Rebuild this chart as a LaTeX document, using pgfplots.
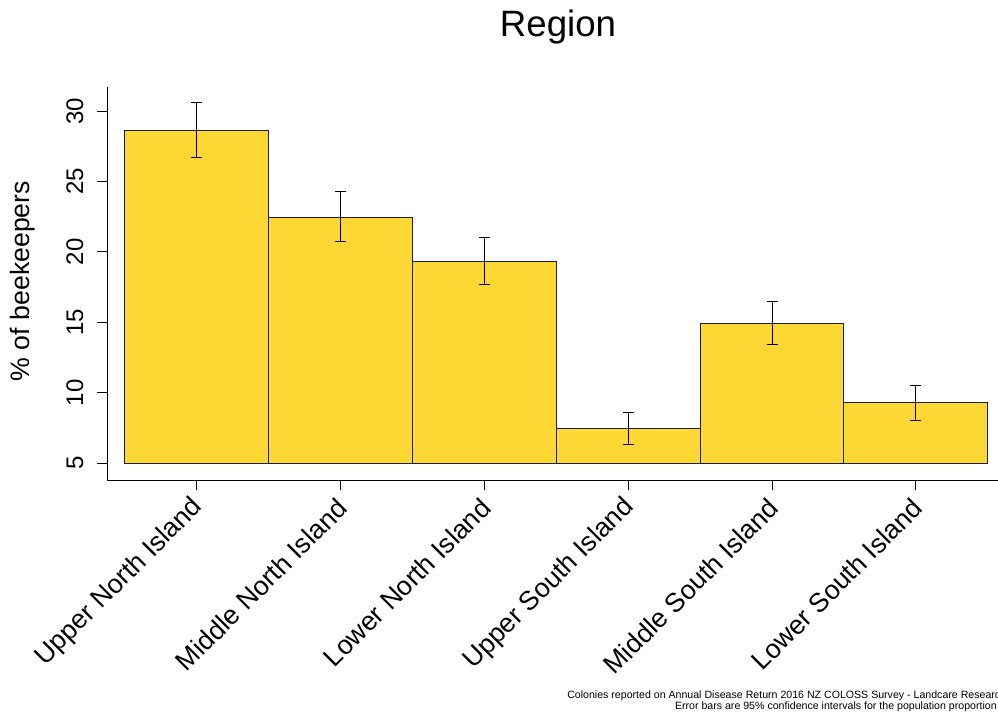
\documentclass[border=0pt]{standalone}
\usepackage{pgfplots}
\pgfplotsset{compat=1.18}
\usepackage{pgfplotstable}
\usepackage{fontspec}
\setmainfont{Liberation Sans}
\definecolor{barfill}{RGB}{253,216,53}
\definecolor{baredge}{RGB}{30,30,30}

\pgfplotstableread{
x val lo hi
0 28.65 26.73 30.64
1 22.47 20.70 24.32
2 19.35 17.71 21.05
3 7.49 6.33 8.60
4 14.92 13.43 16.46
5 9.28 8.05 10.49
}\data

\begin{document}
\begin{tikzpicture}
\begin{axis}[
  scale only axis, width=674.06pt, height=294.75pt,
  xmin=-0.625, xmax=5.625, ymin=-1.207, ymax=26.70,
  enlargelimits=false,
  axis x line*=bottom, axis y line*=left,
  axis line style={-, black, line width=0.75pt},
  tick align=outside, major tick length=7.5pt,
  tick style={black, line width=0.75pt},
  /pgf/number format/assume math mode=true,
  xtick={0,1,2,3,4,5},
  xticklabels={Upper North Island, Middle North Island, Lower North Island, Upper South Island, Middle South Island, Lower South Island},
  ytick={0,5,10,15,20,25},
  yticklabels={5,10,15,20,25,30},
  yticklabel style={xshift=-6.75pt, rotate=90, anchor=south, font=\fontsize{18}{18}\selectfont},
  xticklabel style={xshift=3.75pt, yshift=-7.5pt, rotate=45, anchor=east, font=\fontsize{20}{20}\selectfont},
  clip=false,
]
\addplot[ybar, bar width=1, bar shift=0pt, fill=barfill, draw=baredge, line width=0.75pt,
  error bars/.cd, y dir=both, y explicit, error mark=|,
  error mark options={black, mark size=4.1pt, line width=0.75pt},
  error bar style={black, line width=0.75pt}]
  table[x=x, y expr=\thisrow{val}-5, y error plus expr=\thisrow{hi}-\thisrow{val}, y error minus expr=\thisrow{val}-\thisrow{lo}] {\data};
\node[rotate=90, anchor=base, inner sep=0, font=\fontsize{20}{20}\selectfont] at (axis cs:-1.1674,12.923) {\% of beekeepers};
\node[anchor=base, inner sep=0, font=\fontsize{27.5}{27.5}\selectfont] at (axis cs:2.5113,30.320) {Region};
\node[anchor=base west, inner sep=0, font=\fontsize{7.95}{7.95}\selectfont] at (axis cs:2.5739,-16.686) {Colonies reported on Annual Disease Return 2016 NZ COLOSS Survey - Landcare Research};
\node[anchor=base east, inner sep=0, font=\fontsize{7.95}{7.95}\selectfont] at (axis cs:5.5642,-17.467) {Error bars are 95\% confidence intervals for the population proportion};
\coordinate (TL) at (axis cs:-1.3691,32.884);
\coordinate (BR) at (axis cs:5.5711,-17.898);
\end{axis}
\pgfresetboundingbox
\path[use as bounding box] (TL) rectangle (BR);
\end{tikzpicture}
\end{document}
